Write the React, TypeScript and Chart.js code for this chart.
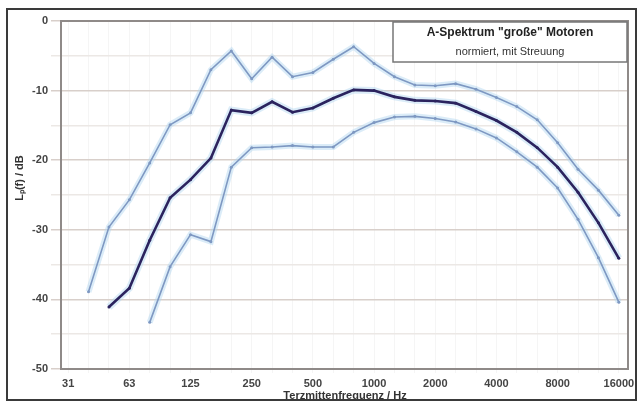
import React, { useEffect, useRef } from "react";
import { Chart, registerables } from "chart.js";

Chart.register(...registerables);

const bandLabels = ["31", "40", "50", "63", "80", "100", "125", "160", "200", "250", "315", "400", "500", "630", "800", "1000", "1250", "1600", "2000", "2500", "3150", "4000", "5000", "6300", "8000", "10000", "12500", "16000"];

const upperValues = [null, -38.9, -29.6, -25.7, -20.4, -14.9, -13.2, -7.0, -4.3, -8.3, -5.2, -8.0, -7.4, -5.5, -3.7, -6.1, -8.0, -9.2, -9.3, -9.0, -9.8, -11.0, -12.3, -14.2, -17.5, -21.3, -24.3, -27.9];
const meanValues = [null, null, -41.1, -38.4, -31.5, -25.4, -22.8, -19.7, -12.8, -13.2, -11.6, -13.1, -12.5, -11.1, -9.9, -10.0, -10.9, -11.4, -11.5, -11.8, -13.0, -14.3, -16.0, -18.2, -21.0, -24.6, -29.0, -34.1];
const lowerValues = [null, null, null, null, -43.3, -35.3, -30.7, -31.7, -21.0, -18.2, -18.1, -17.9, -18.1, -18.1, -16.0, -14.6, -13.8, -13.7, -14.0, -14.5, -15.5, -16.8, -18.8, -21.0, -24.0, -28.5, -34.0, -40.4];

const titleLine1 = 'A-Spektrum "große" Motoren';
const titleLine2 = "normiert, mit Streuung";
const xTitle = "Terzmittenfrequenz / Hz";
const yTitle = "Lₚ(f) / dB";

const FONT = "'Liberation Sans', Arial, sans-serif";

const toPoints = (arr: (number | null)[]) => arr.map((v, i) => ({ x: i, y: v }));

const decor = {
  id: "decor",
  beforeDatasetsDraw(chart: any) {
    const { ctx, chartArea: a } = chart;
    ctx.save();
    ctx.strokeStyle = "#8f8a88";
    ctx.lineWidth = 2;
    ctx.strokeRect(a.left, a.top, a.right - a.left, a.bottom - a.top);
    ctx.restore();
  },
  afterDraw(chart: any) {
    const { ctx } = chart;
    ctx.save();
    // title box
    const bx = 393, by = 22, bw = 234, bh = 40;
    ctx.fillStyle = "#ffffff";
    ctx.fillRect(bx, by, bw, bh);
    ctx.strokeStyle = "#777";
    ctx.lineWidth = 1.5;
    ctx.strokeRect(bx, by, bw, bh);
    ctx.fillStyle = "#222";
    ctx.textAlign = "center";
    ctx.textBaseline = "middle";
    ctx.font = `bold 12px ${FONT}`;
    ctx.fillText(titleLine1, bx + bw / 2, by + 11);
    ctx.font = `11px ${FONT}`;
    ctx.fillStyle = "#333";
    ctx.fillText(titleLine2, bx + bw / 2, by + 30);
    // axis titles
    ctx.font = `bold 11px ${FONT}`;
    ctx.fillStyle = "#333";
    ctx.fillText(xTitle, 345, 396);
    ctx.translate(20, 178);
    ctx.rotate(-Math.PI / 2);
    ctx.fillText(yTitle, 0, 0);
    ctx.restore();
    // outer frame
    ctx.save();
    ctx.strokeStyle = "#3a3a3a";
    ctx.lineWidth = 2;
    ctx.strokeRect(7, 9, 629, 391);
    ctx.restore();
  },
};

export default function App() {
  const ref = useRef<HTMLCanvasElement | null>(null);
  useEffect(() => {
    if (!ref.current) return;
    const halo = "rgba(175,212,240,0.45)";
    const chart = new Chart(ref.current, {
      type: "line",
      data: {
        datasets: [
          { data: toPoints(upperValues), borderColor: halo, borderWidth: 6, pointRadius: 0, order: 5 },
          { data: toPoints(lowerValues), borderColor: halo, borderWidth: 6, pointRadius: 0, order: 5 },
          { data: toPoints(meanValues), borderColor: halo, borderWidth: 7, pointRadius: 0, order: 5 },
          { label: "Max", data: toPoints(upperValues), borderColor: "#7e98c2", borderWidth: 1.6, pointRadius: 1.5, pointBackgroundColor: "#7e98c2", pointBorderWidth: 0, order: 2 },
          { label: "Min", data: toPoints(lowerValues), borderColor: "#7e98c2", borderWidth: 1.6, pointRadius: 1.5, pointBackgroundColor: "#7e98c2", pointBorderWidth: 0, order: 2 },
          { label: "Mittel", data: toPoints(meanValues), borderColor: "#2b235e", borderWidth: 2.6, pointRadius: 1.5, pointBackgroundColor: "#2b235e", pointBorderWidth: 0, order: 1 },
        ],
      },
      options: {
        animation: false,
        responsive: false,
        events: [],
        layout: { padding: { top: 21, right: 16, left: 0, bottom: 0 } },
        plugins: { legend: { display: false }, tooltip: { enabled: false } },
        elements: { line: { tension: 0 } },
        scales: {
          x: {
            type: "linear",
            min: -0.35,
            max: 27.45,
            afterBuildTicks: (s: any) => {
              s.ticks = bandLabels.map((_, i) => ({ value: i }));
            },
            afterFit: (s: any) => {
              s.height = 38;
            },
            ticks: {
              autoSkip: false,
              maxRotation: 0,
              padding: 4,
              color: "#444",
              font: { family: FONT, size: 11, weight: "bold" },
              callback: (v: any) => (Number(v) % 3 === 0 ? bandLabels[Number(v)] : ""),
            },
            grid: { color: "rgba(225,225,225,0.35)", tickLength: 4 },
            border: { color: "#8f8a88", width: 2 },
          },
          y: {
            min: -50,
            max: 0,
            afterFit: (s: any) => {
              s.width = 61;
            },
            ticks: {
              stepSize: 5,
              padding: 3,
              color: "#444",
              font: { family: FONT, size: 11, weight: "bold" },
              callback: (v: any) => (Number(v) % 10 === 0 ? String(v) : ""),
            },
            grid: {
              tickLength: 10,
              color: (c: any) => (c.tick && c.tick.value % 10 === 0 ? "#d8cfca" : "#ece8e5"),
              lineWidth: 1.5,
            },
            border: { color: "#8f8a88", width: 2 },
          },
        },
      },
      plugins: [decor],
    } as any);
    return () => chart.destroy();
  }, []);
  return (
    <div style={{ position: "absolute", left: 0, top: 0, width: 644, height: 407, background: "#fff" }}>
      <canvas ref={ref} width={644} height={407} style={{ display: "block" }} />
    </div>
  );
}
